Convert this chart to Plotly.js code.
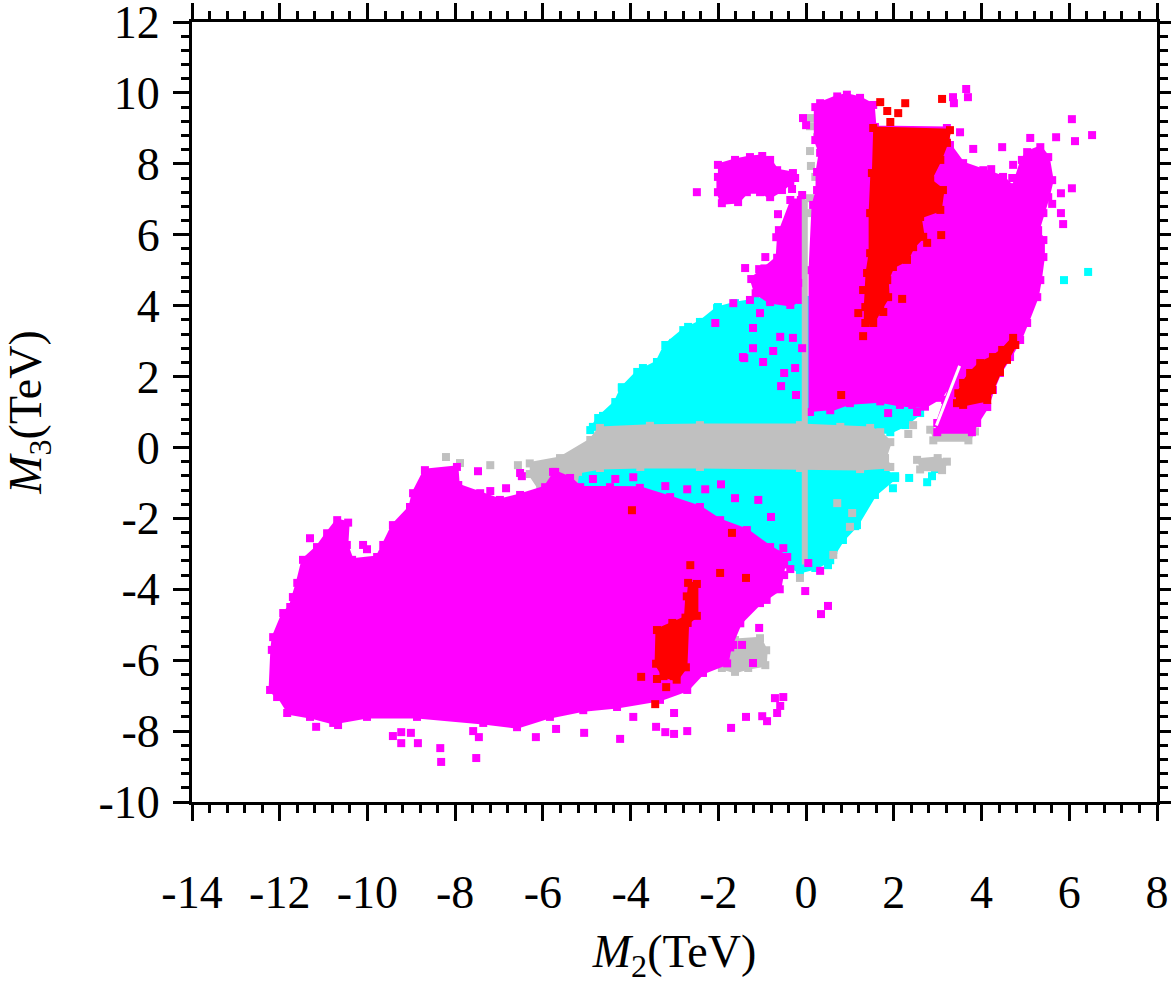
<!DOCTYPE html>
<html>
<head>
<meta charset="utf-8">
<script src="https://cdn.plot.ly/plotly-3.0.1.min.js"></script>
<style>html,body{margin:0;padding:0;background:#fff}#chart{width:1171px;height:984px}</style>
</head>
<body>
<div id="chart"></div>
<script>
// ---------- tick labels ----------
const xTickVals = [-14,-12,-10,-8,-6,-4,-2,0,2,4,6,8];
const xTickText = ["-14","-12","-10","-8","-6","-4","-2","0","2","4","6","8"];
const yTickVals = [-10,-8,-6,-4,-2,0,2,4,6,8,10,12];
const yTickText = ["-10","-8","-6","-4","-2","0","2","4","6","8","10","12"];

// ---------- dense regions (outlines, TeV) ----------
const cyanUpX = [-4.92,-4.74,-4.35,-4.20,-3.85,-3.40,-3.21,-2.80,-2.42,-2.03,-1.62,-1.16,-0.59,-0.14,0.05,0.05];
const cyanUpY = [0.49,0.83,1.28,1.68,2.13,2.41,2.89,3.31,3.54,3.93,4.07,4.16,4.30,4.30,4.16,0.49];
const cyanRightX = [0.05,1.00,2.07,2.60,2.60,2.26,1.92,0.05];
const cyanRightY = [2.18,2.04,1.96,1.76,0.97,0.63,0.43,0.43];
const cyanLowX = [-5.49,-4.70,-2.42,-0.14,1.76,2.03,1.57,1.16,0.84,0.55,0.21,-0.14,-0.71,-1.05,-1.96,-2.87,-3.78,-4.70,-5.49];
const cyanLowY = [-0.44,-0.41,-0.50,-0.52,-0.58,-0.86,-1.34,-2.19,-2.61,-3.18,-3.40,-3.51,-3.12,-2.61,-2.05,-1.48,-1.20,-1.06,-1.06];

const grayBandX = [-6.3,-5.61,-4.92,-4.70,-3.56,-2.42,-0.14,0.78,1.46,1.69,1.92,1.80,1.92,1.23,-0.14,-2.42,-3.78,-4.70,-5.20,-5.34,-5.79,-6.06,-6.3];
const grayBandY = [-0.45,-0.30,0.21,0.55,0.61,0.63,0.63,0.58,0.55,0.43,0.15,-0.30,-0.55,-0.61,-0.58,-0.55,-0.55,-0.58,-0.69,-1.77,-1.91,-1.20,-0.75];
const grayPatchAX = [2.83,3.50,3.85,3.70,2.90];
const grayPatchAY = [0.50,0.60,0.45,0.20,0.20];
const grayPatchBX = [2.53,3.00,3.21,3.10,2.60];
const grayPatchBY = [-0.35,-0.30,-0.40,-0.64,-0.62];
const grayBlobX = [-1.62,-1.05,-0.91,-0.93,-1.32,-1.62,-1.92,-1.92];
const grayBlobY = [-5.43,-5.38,-5.72,-6.14,-6.22,-6.33,-6.22,-5.85];
const grayLineX = [-0.03,-0.03];
const grayLineY = [7.0,-3.3];

const magLowX = [-12.06,-12.22,-12.18,-12.15,-11.92,-11.76,-11.70,-11.60,-11.47,-11.15,-10.92,-10.69,-10.44,-10.47,-10.35,-9.78,-9.64,-9.42,-9.03,-8.96,-8.69,-7.96,-7.93,-7.43,-6.98,-6.52,-5.95,-5.72,-5.38,-5.15,-4.47,-3.79,-3.10,-2.42,-1.96,-1.35,-0.82,-0.43,-0.50,-0.60,-1.05,-1.50,-1.73,-1.80,-2.35,-2.71,-3.33,-4.31,-5.08,-5.84,-6.59,-7.36,-8.87,-10.01,-10.78,-11.31,-11.83];
const magLowY = [-7.04,-6.84,-5.71,-5.35,-4.67,-4.50,-4.22,-3.82,-3.17,-2.81,-2.42,-2.05,-2.12,-2.75,-3.17,-3.09,-2.75,-2.19,-1.68,-1.29,-0.64,-0.55,-1.06,-1.29,-1.48,-1.34,-1.12,-0.69,-0.86,-1.12,-1.12,-1.14,-1.40,-1.68,-2.05,-2.33,-2.81,-3.09,-3.30,-4.00,-4.39,-4.96,-5.64,-6.09,-6.36,-6.84,-7.12,-7.32,-7.41,-7.60,-7.89,-7.77,-7.60,-7.60,-7.77,-7.60,-7.49];
const magEarX = [-2.01,-1.62,-1.28,-1.00,-0.82,-0.66,-0.30,-0.25,-0.36,-0.55,-0.82,-1.05,-1.35,-1.55,-1.92,-2.01,-2.01];
const magEarY = [7.97,8.11,8.19,8.22,8.11,7.82,7.74,7.60,7.46,7.26,7.06,7.20,7.20,6.92,6.89,7.20,7.63];
const magMidX = [-0.36,-0.12,-0.12,-0.36,-0.82,-1.15,-1.25,-0.95,-0.66,-0.62];
const magMidY = [6.98,6.98,4.16,4.02,4.10,4.35,4.75,5.05,5.35,6.13];
const magMainX = [0.09,0.09,0.16,0.25,0.25,0.32,0.21,0.21,0.32,0.71,0.93,1.23,1.53,1.57,3.21,3.28,3.58,4.04,4.49,4.72,4.92,5.04,5.34,5.52,5.61,5.52,5.41,5.29,5.41,5.41,5.34,5.27,5.04,4.88,4.65,4.42,4.26,4.13,3.90,3.78,2.99,2.99,3.17,3.47,3.28,3.06,2.71,2.14,1.69,1.00,0.55];
const magMainY = [1.00,5.00,6.84,7.26,7.77,8.31,8.67,9.60,9.71,9.90,9.95,9.86,9.66,9.04,9.01,8.53,8.02,7.82,7.63,7.34,8.11,8.33,8.47,8.19,7.54,7.06,6.61,6.13,5.85,5.37,4.72,4.24,3.51,3.03,2.55,2.10,1.62,1.14,0.69,0.43,0.43,0.69,1.34,2.24,1.76,1.40,1.15,1.20,1.30,1.25,1.05];
const gapX = [3.50,2.97];
const gapY = [2.30,0.62];

const redMainX = [1.53,3.28,3.21,3.06,2.83,3.12,3.06,2.60,2.67,2.44,2.30,1.98,1.85,1.87,1.69,1.53,1.35,1.35,1.39,1.46,1.46,1.50];
const redMainY = [9.01,8.95,8.59,8.11,7.54,7.26,6.70,6.50,5.94,5.65,5.29,5.09,4.72,4.24,3.88,3.51,3.51,3.96,4.92,5.48,6.61,7.74];
const redStripX = [4.72,4.47,4.26,3.97,3.74,3.58,3.47,3.44,3.58,4.13,4.24,4.42,4.58,4.77];
const redStripY = [3.09,2.75,2.55,2.38,2.10,1.82,1.53,1.25,1.20,1.34,1.62,2.13,2.47,2.89];
const redLowX = [-2.69,-2.49,-2.49,-2.70,-2.74,-2.95,-3.25,-3.42,-3.40,-3.05,-2.75,-2.72];
const redLowY = [-3.82,-3.85,-4.75,-4.95,-6.20,-6.55,-6.45,-6.10,-5.15,-4.95,-4.80,-4.20];

// ---------- individual scattered points ----------
const cyanPtsX = [6.43,5.88,-2.35,-2.01,-2.69,-3.03,-3.72,-4.20,-3.90,-4.63,-4.86,2.03,2.35,1.98,2.87,2.94,2.76,0.93,1.12,0.84,0.62,0.50];
const cyanPtsY = [4.95,4.72,3.54,3.96,3.40,2.95,2.24,1.70,1.56,0.89,0.58,-0.81,-0.86,-1.15,-0.81,-0.61,-0.98,-1.94,-2.22,-2.47,-2.89,-3.32];
const grayPtsX = [-8.21,-7.89,-7.20,-6.57,-5.22,-4.63,2.44,2.33,1.87,1.66,1.28,1.05,0.71,1.00,0.62,-0.14,0.09,0.09,0.25,0.09,0.11,0.21,0.09,0.05];
const grayPtsY = [-0.27,-0.44,-0.50,-0.50,-0.27,-0.24,0.63,0.38,-0.55,0.21,0.21,-1.85,-1.57,-2.24,-3.03,-3.68,9.29,9.06,8.75,8.36,7.94,7.63,7.03,6.61];
const magPtsX = [3.65,3.69,3.35,3.37,3.51,6.06,6.52,6.13,5.70,5.11,4.47,3.81,6.06,5.81,5.81,5.86,5.61,4.72,4.70,4.22,
  -2.49,-0.64,-1.39,-1.07,-0.32,-0.09,-0.07,0.00,-0.68,-0.50,-0.93,-0.75,-0.50,-0.18,-1.12,-1.66,-1.28,-0.82,-1.05,-0.59,-1.44,-0.98,-0.50,-0.57,-0.23,-0.25,-2.07,-1.21,-1.41,-0.30,-0.09,-0.75,-1.21,
  -3.94,-4.86,-5.77,-6.52,-4.35,-3.21,-2.71,-2.30,-1.94,-1.09,-0.80,-1.62,-0.52,
  0.16,0.39,1.87,2.53,2.42,
  -11.31,-10.10,-10.01,-7.48,-7.55,-7.20,-6.84,-6.48,-11.17,-10.67,-9.42,-9.23,-9.01,-9.23,-8.85,-8.34,-8.32,-7.52,-7.59,-7.46,-6.16,-5.70,-5.06,-4.24,-3.94,-3.42,-3.01,-2.71,-3.01,-3.21,-1.71,-1.37,-1.00,-0.89,-0.66,-0.59,-0.71,-0.52,-1.21,-1.46,-1.66,-1.07,-0.02,0.34,0.50,0.32,0.05,-0.36,-0.70,-0.90,-0.50];
const magPtsY = [10.11,9.88,9.88,9.71,8.89,9.26,8.81,8.64,8.75,8.73,8.47,8.42,7.31,7.17,6.61,6.30,6.87,7.97,7.60,7.85,
  7.20,6.58,5.06,5.03,7.29,7.12,9.29,9.09,5.93,5.76,5.37,4.52,4.80,4.64,4.44,4.07,4.16,4.16,3.79,3.12,2.55,2.41,2.10,1.73,1.48,2.24,3.51,3.37,2.52,3.09,2.80,2.72,2.80,
  -0.84,-0.89,-0.69,-0.72,-0.89,-1.09,-1.18,-1.18,-1.04,-1.48,-1.96,-1.43,-2.84,
  1.34,1.31,0.97,1.00,1.20,
  -2.56,-2.75,-2.87,-0.67,-1.31,-1.23,-1.15,-0.81,-7.88,-7.83,-8.14,-8.03,-8.05,-8.34,-8.34,-8.48,-8.87,-8.76,-8.00,-8.17,-8.17,-7.94,-8.05,-8.22,-7.60,-7.88,-7.49,-8.00,-8.08,-8.03,-7.91,-7.60,-7.58,-7.72,-7.49,-7.29,-7.07,-7.04,-6.08,-5.57,-5.57,-5.09,-4.05,-4.70,-4.47,-3.48,-3.26,-3.43,-3.90,-4.30,-3.60];
const redPtsX = [1.69,1.85,2.10,2.26,1.92,3.10,1.30,1.19,1.30,2.19,1.76,2.76,3.08,0.80,3.76,4.08,3.51,-3.97,-1.69,-2.64,-1.96,-1.37,-3.76,-3.44,-3.40,-3.19,-3.01];
const redPtsY = [9.74,9.49,9.43,9.71,9.18,9.83,4.44,3.79,3.14,4.19,3.82,5.77,5.99,1.48,1.37,1.39,1.39,-1.77,-2.41,-3.32,-3.54,-3.68,-6.47,-7.24,-6.53,-6.76,-6.45];

const CYAN = '#00ffff', GRAY = '#c0c0c0', MAG = '#ff00ff', RED = '#ff0000';
const SQ = 8;

function region(x, y, c) {
  return {x: x, y: y, type: 'scatter', mode: 'lines+markers', fill: 'toself', fillcolor: c,
    line: {color: c, width: 3}, marker: {symbol: 'square', size: SQ, color: c},
    hoverinfo: 'skip', showlegend: false};
}
function pts(x, y, c) {
  return {x: x, y: y, type: 'scatter', mode: 'markers',
    marker: {symbol: 'square', size: SQ, color: c, line: {width: 0}},
    hoverinfo: 'skip', showlegend: false};
}

const data = [
  region(cyanUpX, cyanUpY, CYAN),
  region(cyanRightX, cyanRightY, CYAN),
  region(cyanLowX, cyanLowY, CYAN),
  pts(cyanPtsX, cyanPtsY, CYAN),
  region(grayBandX, grayBandY, GRAY),
  region(grayPatchAX, grayPatchAY, GRAY),
  region(grayPatchBX, grayPatchBY, GRAY),
  region(grayBlobX, grayBlobY, GRAY),
  pts(grayPtsX, grayPtsY, GRAY),
  region(magLowX, magLowY, MAG),
  region(magEarX, magEarY, MAG),
  region(magMidX, magMidY, MAG),
  region(magMainX, magMainY, MAG),
  {x: grayLineX, y: grayLineY, type: 'scatter', mode: 'lines', line: {color: GRAY, width: 6}, hoverinfo: 'skip', showlegend: false},
  pts(magPtsX, magPtsY, MAG),
  {x: gapX, y: gapY, type: 'scatter', mode: 'lines', line: {color: '#ffffff', width: 3}, hoverinfo: 'skip', showlegend: false},
  region(redMainX, redMainY, RED),
  region(redStripX, redStripY, RED),
  region(redLowX, redLowY, RED),
  pts(redPtsX, redPtsY, RED)
];

const FONT = 'Liberation Serif, Times New Roman, serif';
function axis(vals, text, range, titleText, standoff, labelStandoff) {
  return {
    range: range, autorange: false,
    tickmode: 'array', tickvals: vals, ticktext: text,
    ticks: 'outside', ticklen: 16, tickwidth: 3, tickcolor: '#000',
    showline: true, linewidth: 3, linecolor: '#000', mirror: 'allticks',
    showgrid: false, zeroline: false,
    ticklabeloverflow: 'allow', ticklabelstandoff: labelStandoff,
    tickfont: {family: FONT, size: 46, color: '#000'},
    minor: {dtick: 0.4, tick0: 0, ticks: 'outside', ticklen: 8, tickwidth: 3, tickcolor: '#000', showgrid: false},
    title: {text: titleText, font: {family: FONT, size: 46, color: '#000'}, standoff: standoff},
    automargin: false
  };
}

const layout = {
  width: 1171, height: 984,
  margin: {l: 192, r: 14, t: 22, b: 182},
  paper_bgcolor: '#fff', plot_bgcolor: '#fff',
  showlegend: false,
  xaxis: axis(xTickVals, xTickText, [-14, 8], '<i>M</i><sub>2</sub>(TeV)', 28, 32),
  yaxis: axis(yTickVals, yTickText, [-10, 12], '<i>M</i><sub>3</sub>(TeV)', 46, 4)
};

Plotly.newPlot('chart', data, layout, {staticPlot: true, displayModeBar: false});
</script>
</body>
</html>
